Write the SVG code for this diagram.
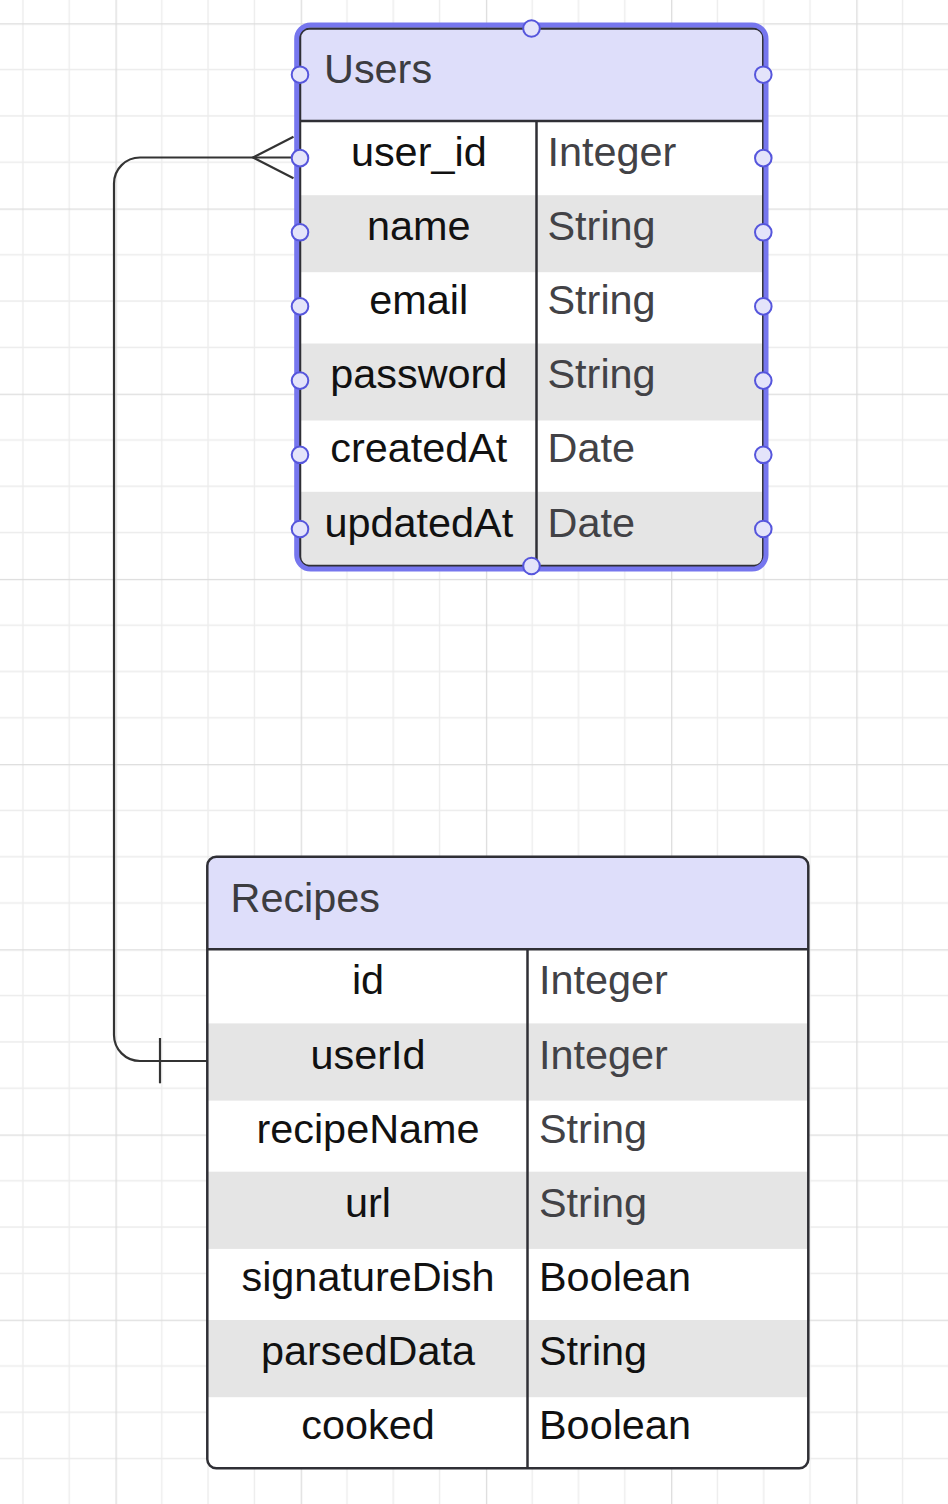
<svg xmlns="http://www.w3.org/2000/svg" width="948" height="1504" viewBox="0 0 948 1504">
<style>
.t{font-family:"Liberation Sans",Arial,sans-serif;font-size:41.4px}
.hd{fill:#3c3c40}
.nm{fill:#111111;text-anchor:middle}
.ty{fill:#424246}
.tb{fill:#111111}
.hdr{fill:#dedefa}
.alt{fill:#e5e5e5}
.frame{fill:none;stroke:#2f2f35;stroke-width:2.5}
.div{stroke:#2f2f35;stroke-width:2.5}
.cp{fill:#e4e4fa;stroke:#5656dc;stroke-width:2}
.conn{fill:none;stroke:#333333;stroke-width:2.2}
</style>
<defs>
<pattern id="grid" patternUnits="userSpaceOnUse" x="115.5" y="23.3" width="185.2" height="185.2">
<path d="M46.3 0V185.2M92.6 0V185.2M138.9 0V185.2M0 46.3H185.2M0 92.6H185.2M0 138.9H185.2" stroke="#ececec" stroke-width="1.3" fill="none"/>
<path d="M0.6 0V185.2M0 0.6H185.2" stroke="#dcdcdc" stroke-width="1.4" fill="none"/>
</pattern>
<clipPath id="cu"><rect x="300" y="28.5" width="463.3" height="537.5" rx="9"/></clipPath>
<clipPath id="cr"><rect x="207.3" y="856.7" width="601" height="611.6" rx="9"/></clipPath>
</defs>
<rect width="948" height="1504" fill="#ffffff"/>
<rect id="grid-bg" width="948" height="1504" fill="url(#grid)"/>

<g id="connectors">
<path class="conn" d="M296 157.5H140A26 26 0 0 0 114 183.5V1035A26 26 0 0 0 140 1061H207.3"/>
<path class="conn" d="M293.5 136.8L253 157.5L293.5 178.3"/>
<path class="conn" d="M160 1038V1083.3"/>
</g>

<g id="users">
<g clip-path="url(#cu)">
<rect x="300" y="28.5" width="463.3" height="92.5" class="hdr"/>
<rect x="300" y="121" width="463.3" height="445" fill="#ffffff"/>
<rect x="300" y="195.2" width="463.3" height="77" class="alt"/>
<rect x="300" y="343.5" width="463.3" height="77" class="alt"/>
<rect x="300" y="491.8" width="463.3" height="75" class="alt"/>
</g>
<rect x="300" y="28.5" width="463.3" height="537.5" rx="9" class="frame"/>
<line x1="300" y1="121" x2="763.3" y2="121" class="div"/>
<line x1="536.5" y1="121" x2="536.5" y2="566" class="div"/>
<text class="t hd" x="324" y="83">Users</text>
<text class="t nm" x="418.8" y="165.6">user_id</text>
<text class="t nm" x="418.8" y="239.8">name</text>
<text class="t nm" x="418.8" y="313.9">email</text>
<text class="t nm" x="418.8" y="388.1">password</text>
<text class="t nm" x="418.8" y="462.3">createdAt</text>
<text class="t nm" x="418.8" y="536.5">updatedAt</text>
<text class="t ty" x="547.5" y="165.6">Integer</text>
<text class="t ty" x="547.5" y="239.8">String</text>
<text class="t ty" x="547.5" y="313.9">String</text>
<text class="t ty" x="547.5" y="388.1">String</text>
<text class="t ty" x="547.5" y="462.3">Date</text>
<text class="t ty" x="547.5" y="536.5">Date</text>
<rect x="296.7" y="25" width="469.3" height="544" rx="14" fill="none" stroke="#7676ee" stroke-width="5"/>
<circle class="cp" cx="531.5" cy="28.5" r="8.3"/>
<circle class="cp" cx="531.5" cy="566" r="8.3"/>
<circle class="cp" cx="300" cy="74.7" r="8.3"/>
<circle class="cp" cx="300" cy="158.1" r="8.3"/>
<circle class="cp" cx="300" cy="232.3" r="8.3"/>
<circle class="cp" cx="300" cy="306.4" r="8.3"/>
<circle class="cp" cx="300" cy="380.6" r="8.3"/>
<circle class="cp" cx="300" cy="454.8" r="8.3"/>
<circle class="cp" cx="300" cy="529" r="8.3"/>
<circle class="cp" cx="763.3" cy="74.7" r="8.3"/>
<circle class="cp" cx="763.3" cy="158.1" r="8.3"/>
<circle class="cp" cx="763.3" cy="232.3" r="8.3"/>
<circle class="cp" cx="763.3" cy="306.4" r="8.3"/>
<circle class="cp" cx="763.3" cy="380.6" r="8.3"/>
<circle class="cp" cx="763.3" cy="454.8" r="8.3"/>
<circle class="cp" cx="763.3" cy="529" r="8.3"/>
</g>

<g id="recipes">
<g clip-path="url(#cr)">
<rect x="207.3" y="856.7" width="601" height="92.6" class="hdr"/>
<rect x="207.3" y="949.3" width="601" height="519" fill="#ffffff"/>
<rect x="207.3" y="1023.4" width="601" height="77.2" class="alt"/>
<rect x="207.3" y="1171.7" width="601" height="77.2" class="alt"/>
<rect x="207.3" y="1320" width="601" height="77.2" class="alt"/>
</g>
<rect x="207.3" y="856.7" width="601" height="611.6" rx="9" class="frame"/>
<line x1="207.3" y1="949.3" x2="808.3" y2="949.3" class="div"/>
<line x1="527.5" y1="949.3" x2="527.5" y2="1468.3" class="div"/>
<text class="t hd" x="230.5" y="912">Recipes</text>
<text class="t nm" x="368" y="994.4">id</text>
<text class="t nm" x="368" y="1068.5">userId</text>
<text class="t nm" x="368" y="1142.6">recipeName</text>
<text class="t nm" x="368" y="1216.8">url</text>
<text class="t nm" x="368" y="1291">signatureDish</text>
<text class="t nm" x="368" y="1365.1">parsedData</text>
<text class="t nm" x="368" y="1439.2">cooked</text>
<text class="t ty" x="539" y="994.4">Integer</text>
<text class="t ty" x="539" y="1068.5">Integer</text>
<text class="t ty" x="539" y="1142.6">String</text>
<text class="t ty" x="539" y="1216.8">String</text>
<text class="t tb" x="539" y="1291">Boolean</text>
<text class="t tb" x="539" y="1365.1">String</text>
<text class="t tb" x="539" y="1439.2">Boolean</text>
</g>
</svg>
